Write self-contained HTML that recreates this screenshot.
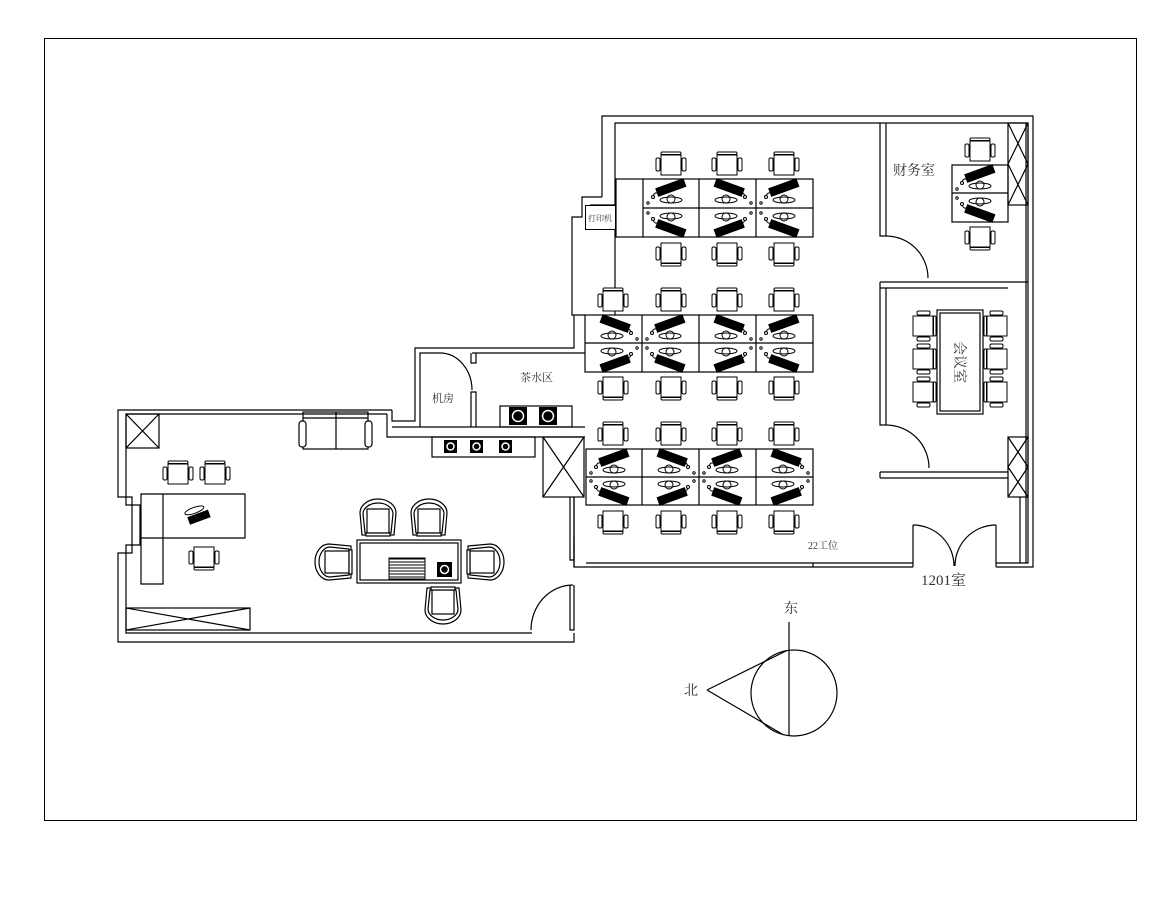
<!DOCTYPE html>
<html><head><meta charset="utf-8"><style>
html,body{margin:0;padding:0;background:#fff;}
svg{display:block;}
text{font-family:"Liberation Serif","Noto Serif CJK SC","Noto Sans CJK SC",serif;fill:#333;}
</style></head><body>
<svg width="1176" height="904" viewBox="0 0 1176 904" xmlns="http://www.w3.org/2000/svg">
<defs>
<g id="ch" fill="#fff" stroke="#000" stroke-width="1">
  <rect x="3" y="0" width="20" height="2.5" rx="1.2"/>
  <rect x="3" y="3" width="20" height="20"/>
  <rect x="-2" y="6" width="4" height="13" rx="1.5"/>
  <rect x="24" y="6" width="4" height="13" rx="1.5"/>
</g>
<g id="wsA">
  <rect x="-15" y="-5" width="30" height="9" fill="#000" transform="translate(30,9) rotate(20)"/>
  <ellipse cx="27" cy="21" rx="11" ry="3" fill="none" stroke="#000"/>
  <circle cx="27" cy="20" r="4" fill="none" stroke="#000"/>
  <path d="M40,15 q4,-3 6,2" fill="none" stroke="#000"/>
  <circle cx="46" cy="18" r="1.5" fill="none" stroke="#000"/>
  <circle cx="52" cy="24" r="1.2" fill="none" stroke="#000"/>
</g>
<g id="wsB">
  <rect x="-15" y="-5" width="30" height="9" fill="#000" transform="translate(28,9) rotate(-20)"/>
  <ellipse cx="28" cy="21" rx="11" ry="3" fill="none" stroke="#000"/>
  <circle cx="28" cy="20" r="4" fill="none" stroke="#000"/>
  <path d="M16,15 q-4,-3 -6,2" fill="none" stroke="#000"/>
  <circle cx="10" cy="18" r="1.5" fill="none" stroke="#000"/>
  <circle cx="5" cy="24" r="1.2" fill="none" stroke="#000"/>
</g>
<g id="rc" fill="#fff" stroke="#000" stroke-width="1.2">
  <path d="M2,36 L0,14 A18,14 0 0 1 36,14 L34,36 Z"/>
  <path d="M5,34 L3,15 A15,11 0 0 1 33,15 L31,34 Z"/>
  <rect x="7" y="10" width="22" height="24"/>
  <rect x="6" y="34" width="24" height="3"/>
</g>
</defs>
<rect x="0" y="0" width="1176" height="904" fill="#fff"/>
<rect x="44.5" y="38.5" width="1092" height="782" fill="none" stroke="#000" stroke-width="1"/>

<g fill="none" stroke="#000" stroke-width="1.2">
<path d="M602,197 V116 H1033 V567 H996"/>
<path d="M615,315 V123 H1028 V563 H996"/>
<path d="M1020,497 V563 M1026,123 V563"/>
<path d="M602,197 H582 V217 H572 V315 H585"/>
<path d="M615,205 H590"/>
<path d="M574,497 V567 H913 M586,563 H913"/>
<path d="M574,537 V567 M813,563 V567"/>
<path d="M880,123 V236 H886 V123"/>
<path d="M886,236 A42,42 0 0 1 928,278"/>
<path d="M880,282 H1028 M880,288 H1008 M880,282 V288"/>
<path d="M880,288 V425 H886 V288"/>
<path d="M886,425 A43,43 0 0 1 929,468"/>
<path d="M880,472 H1008 M880,478 H1008 M880,472 V478"/>
<rect x="1008" y="123" width="20" height="82"/>
<path d="M1008,123 L1028,164 L1008,205 M1028,123 L1008,164 L1028,205"/>
<rect x="1008" y="437" width="20" height="60"/>
<path d="M1008,437 L1028,467 L1008,497 M1028,437 L1008,467 L1028,497"/>
<path d="M913,525 V567 M996,525 V567"/>
<path d="M913,525 A41,41 0 0 1 954,566 M996,525 A41,41 0 0 0 955,566"/>
</g>

<rect x="585.5" y="205.5" width="30" height="24" fill="#fff" stroke="#000"/>
<text x="600" y="221" font-size="8" text-anchor="middle">打印机</text>

<g fill="none" stroke="#000" stroke-width="1.2">
<rect x="616" y="179" width="197" height="58"/>
<path d="M643,179 V237 M699,179 V237 M756,179 V237 M643,208 H813"/>
<rect x="585" y="315" width="228" height="57"/>
<path d="M642,315 V372 M699,315 V372 M756,315 V372 M585,343 H813"/>
<rect x="586" y="449" width="227" height="56"/>
<path d="M642,449 V505 M699,449 V505 M756,449 V505 M586,477 H813"/>
<rect x="952" y="165" width="56" height="57"/>
<path d="M952,193 H1008"/>
<rect x="937" y="310" width="46" height="104"/>
<rect x="940" y="313" width="40" height="98"/>
</g>

<use href="#wsB" x="643" y="179"/><use href="#wsA" x="699" y="179"/><use href="#wsB" x="756" y="179"/>
<g transform="translate(643,237) scale(1,-1)"><use href="#wsB"/></g>
<g transform="translate(699,237) scale(1,-1)"><use href="#wsA"/></g>
<g transform="translate(756,237) scale(1,-1)"><use href="#wsB"/></g>
<use href="#wsA" x="585" y="315"/><use href="#wsB" x="642" y="315"/><use href="#wsA" x="699" y="315"/><use href="#wsB" x="756" y="315"/>
<g transform="translate(585,372) scale(1,-1)"><use href="#wsA"/></g>
<g transform="translate(642,372) scale(1,-1)"><use href="#wsB"/></g>
<g transform="translate(699,372) scale(1,-1)"><use href="#wsA"/></g>
<g transform="translate(756,372) scale(1,-1)"><use href="#wsB"/></g>
<use href="#wsB" x="586" y="449"/><use href="#wsA" x="642" y="449"/><use href="#wsB" x="699" y="449"/><use href="#wsA" x="756" y="449"/>
<g transform="translate(586,505) scale(1,-1)"><use href="#wsB"/></g>
<g transform="translate(642,505) scale(1,-1)"><use href="#wsA"/></g>
<g transform="translate(699,505) scale(1,-1)"><use href="#wsB"/></g>
<g transform="translate(756,505) scale(1,-1)"><use href="#wsA"/></g>
<use href="#wsB" x="952" y="165"/>
<g transform="translate(952,222) scale(1,-1)"><use href="#wsB"/></g>

<use href="#ch" x="658" y="152"/><use href="#ch" x="714" y="152"/><use href="#ch" x="771" y="152"/>
<g transform="translate(658,266) scale(1,-1)"><use href="#ch"/></g>
<g transform="translate(714,266) scale(1,-1)"><use href="#ch"/></g>
<g transform="translate(771,266) scale(1,-1)"><use href="#ch"/></g>
<use href="#ch" x="600" y="288"/><use href="#ch" x="658" y="288"/><use href="#ch" x="714" y="288"/><use href="#ch" x="771" y="288"/>
<g transform="translate(600,400) scale(1,-1)"><use href="#ch"/></g>
<g transform="translate(658,400) scale(1,-1)"><use href="#ch"/></g>
<g transform="translate(714,400) scale(1,-1)"><use href="#ch"/></g>
<g transform="translate(771,400) scale(1,-1)"><use href="#ch"/></g>
<use href="#ch" x="600" y="422"/><use href="#ch" x="658" y="422"/><use href="#ch" x="714" y="422"/><use href="#ch" x="771" y="422"/>
<g transform="translate(600,534) scale(1,-1)"><use href="#ch"/></g>
<g transform="translate(658,534) scale(1,-1)"><use href="#ch"/></g>
<g transform="translate(714,534) scale(1,-1)"><use href="#ch"/></g>
<g transform="translate(771,534) scale(1,-1)"><use href="#ch"/></g>
<use href="#ch" x="967" y="138"/>
<g transform="translate(967,250) scale(1,-1)"><use href="#ch"/></g>
<g transform="translate(936,313) rotate(90)"><use href="#ch"/></g>
<g transform="translate(936,346) rotate(90)"><use href="#ch"/></g>
<g transform="translate(936,379) rotate(90)"><use href="#ch"/></g>
<g transform="translate(984,339) rotate(-90)"><use href="#ch"/></g>
<g transform="translate(984,372) rotate(-90)"><use href="#ch"/></g>
<g transform="translate(984,405) rotate(-90)"><use href="#ch"/></g>

<g fill="none" stroke="#000" stroke-width="1.2">
<path d="M392,410 H118 V497 H132 V553 H118 V642 H574 V633"/>
<path d="M387,414 H126 V505 H140 V545 H126 V633 H532"/>
<path d="M392,410 V421 H415 V348 H574 V315"/>
<path d="M387,414 V437 H585 M392,427 H585"/>
<path d="M420,427 V353 H440 M472,353 H585"/>
<path d="M471,353 V363 H476 V353 M471,427 V392 H476 V427"/>
<path d="M440,353 A32,37 0 0 1 472,390"/>
<path d="M570,497 V560 H574 V497 M570,585 V630 H574 V585"/>
<path d="M573,585 A42,45 0 0 0 531,630"/>
<rect x="126" y="414" width="33" height="34"/>
<path d="M126,414 L159,448 M159,414 L126,448"/>
<rect x="543" y="437" width="41" height="60"/>
<path d="M543,437 L584,497 M584,437 L543,497"/>
<rect x="126" y="608" width="124" height="22"/>
<path d="M126,608 L250,630 M250,608 L126,630"/>
<rect x="500" y="406" width="72" height="21"/>
<rect x="432" y="437" width="103" height="20"/>
<rect x="303" y="412" width="65" height="37"/>
<path d="M303,418 H368 M336,412 V449"/>
<rect x="299" y="421" width="7" height="26" rx="3" fill="#fff"/>
<rect x="365" y="421" width="7" height="26" rx="3" fill="#fff"/>
<path d="M141,494 H245 V538 H141 Z M141,538 V584 H163 V494"/>
<rect x="357" y="540" width="104" height="43"/>
<rect x="360" y="543" width="98" height="37"/>
</g>
<g fill="#000">
<rect x="509" y="407" width="18" height="18"/><rect x="539" y="407" width="18" height="18"/>
<rect x="444" y="440" width="13" height="13"/><rect x="470" y="440" width="13" height="13"/><rect x="499" y="440" width="13" height="13"/>
<rect x="437" y="562" width="15" height="15"/>
</g>
<g fill="none" stroke="#fff" stroke-width="1.5">
<circle cx="518" cy="416" r="5.5"/><circle cx="548" cy="416" r="5.5"/>
<circle cx="450.5" cy="446.5" r="3.5"/><circle cx="476.5" cy="446.5" r="3.5"/><circle cx="505.5" cy="446.5" r="3.5"/>
<circle cx="444.5" cy="569.5" r="4"/>
</g>
<g stroke="#000" stroke-width="1">
<path d="M389,559 H425 M389,562 H425 M389,565 H425 M389,568 H425 M389,571 H425 M389,574 H425 M389,577 H425"/>
<rect x="389" y="558" width="36" height="21" fill="none"/>
</g>
<use href="#ch" x="165" y="461"/><use href="#ch" x="202" y="461"/>
<g transform="translate(191,570) scale(1,-1)"><use href="#ch"/></g>
<g transform="translate(183,523) rotate(-20)">
<rect x="6" y="-4" width="22" height="8" fill="#000"/>
<ellipse cx="15" cy="-8" rx="10" ry="3" fill="none" stroke="#000"/>
</g>
<use href="#rc" x="360" y="499"/><use href="#rc" x="411" y="499"/>
<g transform="translate(425,624) scale(1,-1)"><use href="#rc"/></g>
<g transform="translate(315,580) rotate(-90)"><use href="#rc"/></g>
<g transform="translate(504,544) rotate(90)"><use href="#rc"/></g>

<g fill="none" stroke="#000" stroke-width="1.2">
<circle cx="794" cy="693" r="43"/>
<path d="M789,622 V736 M707,690 L786,651 M707,690 L782,734"/>
</g>

<text x="893" y="175" font-size="14">财务室</text>
<text x="955" y="362" font-size="14" transform="rotate(90 955 362)" text-anchor="middle">会议室</text>
<text x="520" y="381" font-size="11">茶水区</text>
<text x="432" y="402" font-size="11">机房</text>
<text x="808" y="549" font-size="10">22工位</text>
<text x="921" y="585" font-size="15">1201室</text>
<text x="784" y="613" font-size="14">东</text>
<text x="684" y="695" font-size="14">北</text>
</svg>
</body></html>
